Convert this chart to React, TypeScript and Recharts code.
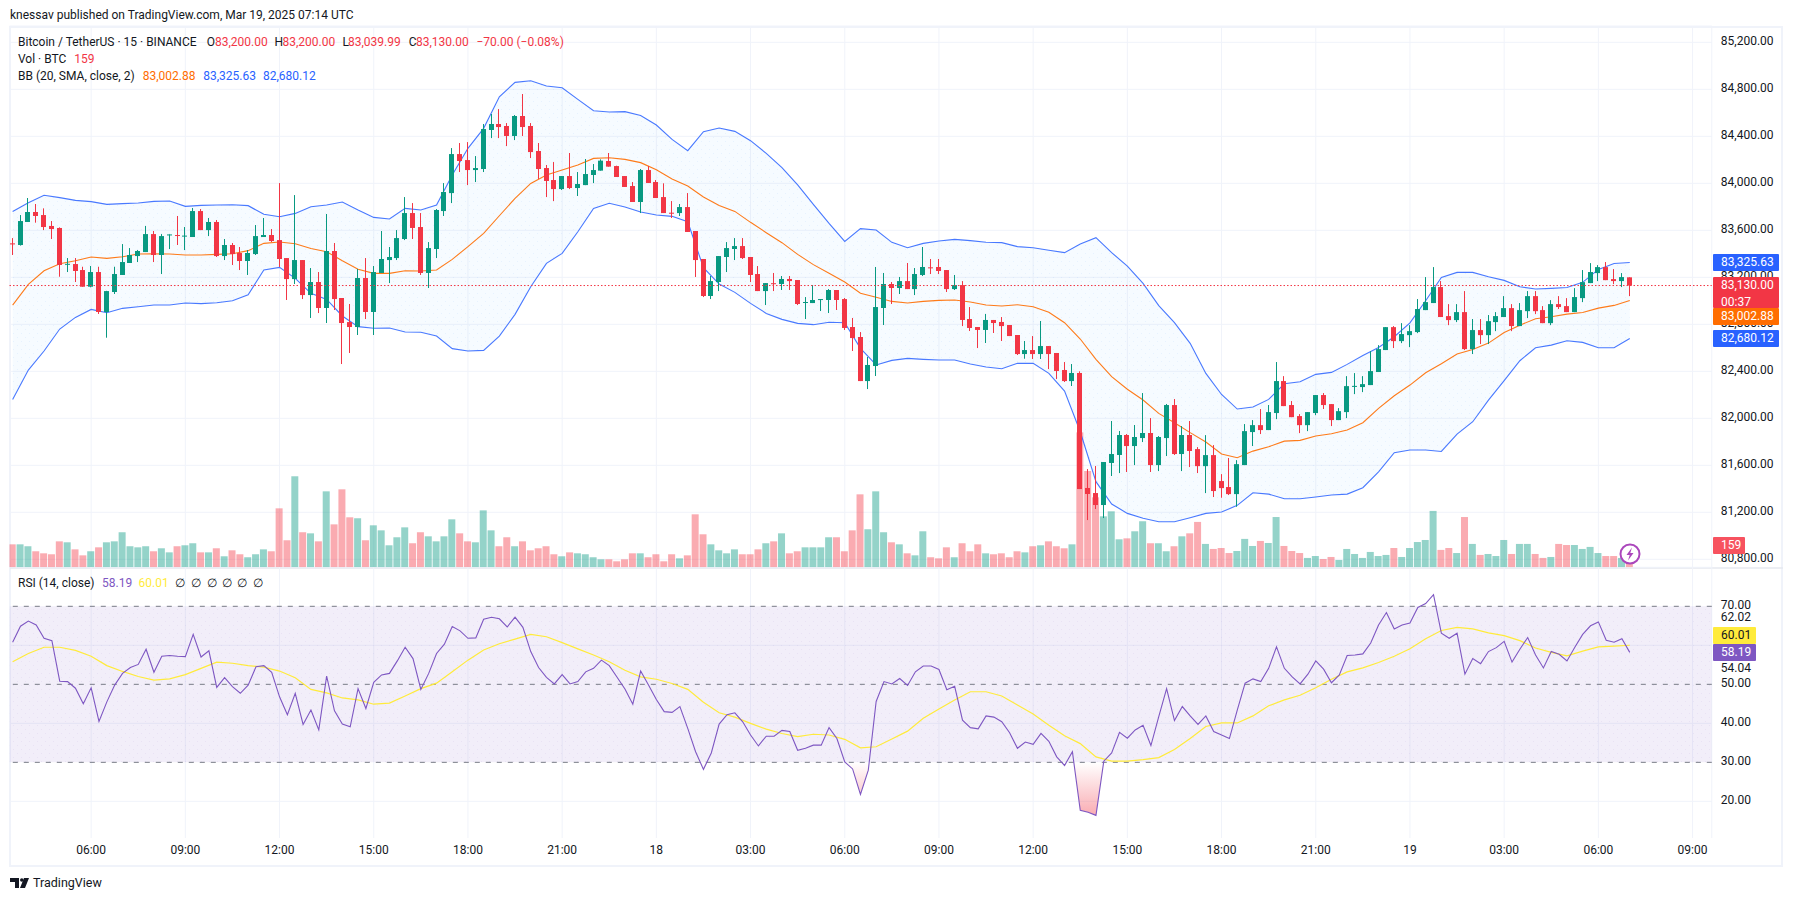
import React from "react";
import {
  ComposedChart, Bar, Line, Area, XAxis, YAxis, CartesianGrid, ReferenceLine, ReferenceArea,
} from "recharts";

const opens = [
83489,83475,83671,83756,83730,83637,83620,83310,83313,83262,
83120,83245,82905,83075,83220,83322,83381,83415,83568,83390,
83557,83560,83548,83543,83764,83602,83671,83381,83475,83407,
83339,83398,83543,83560,83517,83364,83185,83347,83049,83160,
82939,83424,83024,82819,82777,83194,82905,83237,83347,83364,
83526,83747,83628,83237,83441,83764,83917,84249,84198,84113,
84122,84454,84505,84488,84403,84573,84488,84275,84130,84028,
83951,84062,83960,83985,84071,84108,84190,84147,84062,83977,
83841,84113,84011,83883,83750,83747,83798,83594,83356,83041,
83160,83373,83441,83466,83373,83228,83083,83150,83143,83186,
83177,82985,82981,83007,83007,83092,83015,82777,82692,82317,
82445,82939,83143,83109,83168,83100,83220,83285,83288,83262,
83100,83134,82845,82777,82752,82837,82820,82794,82709,82547,
82581,82547,82615,82556,82411,82317,82386,81407,81364,81262,
81620,81688,81858,81764,81832,81875,81602,81832,82113,81696,
81858,81738,81593,81687,81466,81415,81355,81602,81883,81942,
81900,82045,82317,82113,82019,81942,82045,82198,82121,81985,
82053,82270,82266,82283,82394,82581,82776,82657,82708,82734,
82921,82981,83117,82870,82836,82904,82589,82751,82708,82819,
82862,82938,82785,82912,83040,82921,82810,82972,82955,82904,
83023,83151,83236,83287,83185,83168,83200];

const highs = [
83534,83730,83875,83824,83787,83679,83625,83364,83364,83290,
83296,83290,83085,83290,83483,83449,83432,83637,83594,83568,
83565,83722,83628,83790,83781,83705,83688,83526,83492,83458,
83432,83645,83705,83611,84002,83364,83900,83347,83279,83245,
83739,83492,83024,82973,83271,83364,83296,83594,83458,83602,
83883,83832,83747,83500,83781,84002,84300,84343,84351,84232,
84505,84590,84632,84513,84581,84760,84513,84343,84156,84181,
84062,84258,84096,84207,84164,84204,84258,84150,84062,84011,
84122,84147,84028,84000,83849,83824,83917,83594,83356,83211,
83381,83500,83534,83534,83373,83296,83151,83237,83211,83211,
83177,83032,83134,83015,83100,83092,83024,82854,82734,82522,
83288,83237,83160,83203,83322,83279,83458,83356,83356,83262,
83220,83168,82947,82777,82888,82837,82862,82794,82709,82658,
82700,82828,82615,82556,82479,82462,82400,81568,81594,81628,
81977,81892,81866,81943,82215,82002,81849,82122,82164,81934,
81977,81755,81857,81772,81525,81662,81644,81951,81985,82079,
82113,82479,82359,82147,82036,82053,82198,82215,82121,82087,
82359,82385,82359,82572,82623,82776,82785,82810,82793,83015,
83202,83287,83168,82972,82972,83083,82845,82845,82879,82904,
83040,82972,82981,83083,83083,82955,83006,83040,83023,83108,
83262,83321,83304,83330,83270,83236,83200];

const lows = [
83390,83470,83671,83665,83602,83526,83205,83245,83160,83120,
83115,82888,82686,83058,83220,83322,83330,83415,83330,83228,
83441,83475,83432,83543,83602,83551,83373,83347,83305,83262,
83220,83390,83543,83500,83288,83007,83143,83015,82854,82896,
82811,82922,82462,82556,82709,82845,82709,83237,83151,83347,
83517,83526,83220,83109,83364,83722,83832,84096,83985,84011,
84096,84385,84385,84317,84368,84403,84215,84037,83883,83849,
83943,83951,83892,83985,84002,84108,84142,84054,83969,83841,
83747,84003,83875,83747,83705,83722,83586,83203,83032,83015,
83083,83245,83347,83356,83160,83083,82964,83083,83092,83092,
82964,82845,82981,82913,82896,82922,82752,82573,82317,82249,
82360,82794,82973,83058,83100,83049,83211,83228,83228,83075,
83092,82785,82743,82598,82641,82726,82658,82700,82539,82507,
82505,82505,82419,82334,82309,82275,81398,81134,81228,81151,
81509,81534,81543,81602,81798,81543,81551,81679,81688,81551,
81585,81534,81364,81330,81324,81347,81247,81602,81764,81866,
81900,81993,82104,82010,81874,81891,82027,82079,81934,81985,
82002,82206,82223,82283,82394,82581,82598,82640,82606,82725,
82921,82981,82862,82793,82819,82581,82547,82632,82632,82742,
82862,82742,82785,82853,82887,82810,82793,82930,82904,82904,
82989,83151,83168,83176,83142,83117,83039.99];

const closes = [
83480,83679,83756,83722,83628,83611,83305,83315,83254,83120,
83245,82905,83083,83228,83330,83390,83424,83568,83390,83551,
83565,83553,83555,83764,83602,83671,83381,83475,83398,83339,
83407,83551,83560,83509,83356,83185,83347,83049,83160,82939,
83424,83015,82811,82777,83194,82905,83245,83356,83373,83534,
83747,83620,83237,83449,83773,83926,84249,84190,84113,84130,
84462,84505,84479,84403,84573,84479,84266,84122,84020,83951,
84062,83960,83994,84079,84113,84193,84142,84054,83969,83841,
84113,84003,83875,83747,83745,83798,83586,83347,83041,83168,
83381,83449,83466,83364,83220,83083,83151,83143,83186,83168,
82973,82990,83007,83015,83092,83007,82769,82683,82317,82454,
82947,83143,83109,83168,83100,83228,83288,83278,83254,83100,
83134,82837,82769,82752,82837,82811,82785,82700,82547,82581,
82547,82615,82547,82403,82317,82386,81398,81356,81262,81628,
81696,81858,81764,81841,81875,81602,81841,82113,81696,81858,
81722,81593,81687,81381,81406,81355,81610,81891,81942,81900,
82053,82317,82104,82010,81942,82053,82198,82113,81985,82061,
82274,82276,82291,82402,82589,82776,82657,82717,82742,82930,
82989,83117,82862,82836,82904,82589,82751,82708,82827,82870,
82938,82785,82921,83040,82912,82810,82972,82947,82904,83032,
83159,83245,83287,83176,83168,83202,83130];

const volumes = [
169,169,155,118,103,96,191,184,132,88,
118,147,184,191,258,155,147,155,118,140,
110,155,162,177,110,110,140,81,125,96,
74,96,132,118,434,199,670,258,250,191,
559,316,574,368,361,199,309,272,162,221,
294,177,258,228,191,228,353,250,191,184,
419,272,155,221,155,191,125,140,155,96,
81,110,103,96,74,59,59,44,59,103,
103,74,96,44,96,66,88,390,243,169,
125,103,132,96,96,132,177,191,250,103,
118,147,147,147,221,221,118,272,537,280,
559,258,184,169,103,88,265,74,66,147,
74,177,118,169,103,96,103,74,118,110,
155,162,191,155,140,169,993,709,515,375,
412,206,213,265,339,177,177,118,155,228,
250,334,172,135,142,105,120,209,157,194,
179,370,157,120,105,69,83,61,76,54,
135,98,69,113,83,91,142,76,142,186,
201,415,128,142,105,370,172,91,98,83,
201,98,172,172,98,69,76,172,164,164,
135,150,105,83,83,69,159];

const rsiValues = [
60.8,64.9,66.2,65.2,61.8,61.2,50.8,50.7,49.0,45.0,
49.1,40.5,45.5,49.8,52.8,54.3,55.1,59.0,53.1,57.2,
57.4,57.2,57.1,62.8,57.0,58.6,49.2,51.7,49.4,47.7,
49.8,54.5,54.8,53.1,46.8,42.2,47.7,39.7,43.4,38.3,
52.1,43.2,39.8,39.1,48.9,43.8,50.5,52.4,52.8,56.0,
59.5,56.6,48.7,52.8,57.9,60.3,64.8,63.7,61.8,61.9,
66.7,67.2,66.8,64.7,67.2,64.6,58.4,54.3,51.8,50.1,
52.5,50.1,50.7,53.2,54.1,56.2,54.8,51.8,48.8,44.9,
53.4,49.8,46.1,43.0,42.8,44.3,38.7,32.7,28.2,32.4,
39.8,42.2,42.7,40.4,37.0,34.2,36.7,36.7,38.2,37.9,
33.1,33.6,34.4,34.4,38.9,36.1,30.1,28.3,21.8,28.0,
45.6,50.7,50.1,51.5,49.7,53.2,54.7,54.7,53.8,48.6,
49.5,40.8,38.9,38.6,41.9,41.6,40.4,37.6,33.6,35.2,
34.6,37.4,35.4,31.4,29.2,32.7,17.7,17.2,16.4,30.3,
32.4,37.7,36.2,38.3,39.5,34.3,41.7,48.9,40.7,44.3,
41.9,39.7,41.9,37.9,37.0,36.1,43.4,50.3,51.4,50.7,
54.1,59.6,54.1,51.9,50.1,52.6,56.0,53.9,50.4,52.4,
57.4,57.5,57.8,60.6,65.2,68.4,64.2,65.2,65.7,69.7,
70.7,73.0,63.1,61.8,63.1,52.6,56.6,55.3,58.4,59.4,
61.0,55.7,59.0,62.0,57.5,54.2,58.4,57.7,56.0,59.5,
62.8,65.0,66.0,61.3,60.8,61.7,58.19];

// The four smooth lines are read at every second bar.
const bbUpper = [
83761,83835,83898,83878,83855,83844,83821,83827,83832,83846,
83849,83804,83812,83815,83818,83810,83736,83716,83744,83801,
83815,83841,83773,83710,83696,83787,83773,83815,84071,84298,
84468,84737,84859,84873,84828,84814,84715,84618,
84607,84610,84578,84496,84374,84278,84439,84471,84442,84363,
84255,84133,83986,83821,83659,83506,83614,83603,83498,83452,
83489,83509,83523,83512,83498,83495,83461,83452,83430,83410,
83483,83537,83410,83296,83149,82959,82814,82638,
82382,82203,82079,82096,82161,82294,82311,82374,82391,82459,
82535,82603,82694,82813,83001,83199,83242,83242,83205,83174,
83120,83100,83106,83114,83157,83267,83318,83325.63];

const bbMiddle = [
82964,83140,83256,83316,83341,83373,83361,83375,83398,83401,
83398,83390,83390,83395,83401,83427,83489,83500,83486,83446,
83418,83341,83268,83234,83234,83256,83254,83262,83353,83461,
83574,83724,83872,83999,84071,84113,84156,84212,
84218,84204,84176,84116,84037,83977,83883,83812,83761,83668,
83580,83495,83395,83308,83234,83160,83064,83030,82995,82981,
82995,83004,83007,82990,82964,82956,82967,82950,82902,82814,
82675,82502,82354,82247,82156,82042,81963,81878,
81798,81696,81664,81721,81758,81806,81812,81849,81869,81900,
81962,82084,82192,82283,82388,82464,82547,82586,82640,82731,
82793,82847,82864,82887,82901,82938,82961,83002.88];

const bbLower = [
82161,82411,82573,82760,82859,82927,82899,82936,82950,82964,
82964,82981,82976,82984,83001,83052,83262,83285,83191,83064,
83012,82871,82780,82766,82768,82734,82732,82700,82593,82573,
82578,82700,82885,83120,83319,83404,83588,83787,
83830,83798,83756,83730,83719,83673,83282,83143,83072,82978,
82893,82842,82808,82797,82817,82814,82595,82454,82493,82510,
82502,82496,82496,82462,82437,82422,82468,82468,82383,82232,
81886,81461,81271,81191,81149,81120,81120,81154,
81191,81202,81259,81366,81355,81315,81315,81330,81347,81355,
81409,81545,81707,81730,81730,81718,81866,81971,82155,82320,
82490,82601,82623,82660,82646,82601,82601,82680.12];

const rsiMa = [
55.8,57.9,59.5,59.5,58.7,57.2,54.8,53.3,52.0,51.1,
51.4,52.5,54.1,55.7,55.4,54.8,54.4,53.4,51.7,48.7,
47.8,46.5,46.0,44.9,45.2,47.0,48.9,50.3,53.2,56.2,
58.8,60.4,61.6,62.8,62.2,60.7,59.1,57.5,
55.8,53.6,51.9,51.3,50.2,48.7,45.4,42.7,41.6,40.0,
38.5,37.4,36.6,37.2,37.0,35.9,33.7,34.0,36.0,38.0,
41.3,43.7,46.0,48.1,48.1,47.0,44.7,42.4,39.5,36.8,
34.8,31.4,30.3,30.3,30.7,31.2,33.3,36.1,
39.2,40.1,40.1,41.9,44.5,46.0,47.2,49.1,51.3,53.2,
54.2,55.6,57.2,59.1,61.7,63.8,64.6,64.2,63.2,62.5,
61.2,59.3,58.2,57.3,58.5,59.6,59.8,60.01];

const priceTicks = [80800,81200,81600,82000,82400,82800,83200,83600,84000,84400,84800,85200];
const timeTickBars = [10,22,34,46,58,70,82,94,106,118,130,142,154,166,178,190,202,214];
const timeTickLabels = ["06:00","09:00","12:00","15:00","18:00","21:00","18","03:00","06:00","09:00","12:00","15:00","18:00","21:00","19","03:00","06:00","09:00"];
const rsiGridLevels = [20,40,60];
const rsiDashedLevels = [30,50,70];
const rsiTickPositions = [20,30,40,50,53.85,66.9,70];
const rsiTickLabels = ["20.00","30.00","40.00","50.00","54.04","62.02","70.00"];
const lastPrice = 83130;

const UP = "#089981", DOWN = "#f23645", BLUE = "#2962ff", ORANGE = "#ff6d00", PURPLE = "#7e57c2", YELLOW = "#ffeb3b";
const GRID = "#f0f3fa", TEXT = "#131722";
const FONT = "Roboto, sans-serif";

const rows = opens.map((open, i) => ({
  i, open, high: highs[i], low: lows[i], close: closes[i], volume: volumes[i], rsi: rsiValues[i],
  range: [lows[i], highs[i]],
}));
const bandRows = bbUpper.map((u, k) => ({ i: k * 2, upper: u, middle: bbMiddle[k], lower: bbLower[k], band: [bbLower[k], u], ma: rsiMa[k] }));

const oversoldRows: { i: number; under: number[] }[] = [];
rsiValues.forEach((v, i) => {
  oversoldRows.push({ i, under: [Math.min(v, 30), 30] });
  const n = rsiValues[i + 1];
  if (n !== undefined && (v - 30) * (n - 30) < 0) {
    oversoldRows.push({ i: i + (30 - v) / (n - v), under: [30, 30] });
  }
});

function Candle(p: any) {
  const { x, y, width, height, payload } = p;
  const perUnit = Math.abs(height) / Math.max(payload.high - payload.low, 1);
  const top = Math.min(y, y + height);
  const cx = Math.round(x + width / 2 - 0.5) + 0.5;
  const yOf = (v: number) => top + (payload.high - v) * perUnit;
  const up = payload.close >= payload.open;
  const c = up ? UP : DOWN;
  const bt = yOf(Math.max(payload.open, payload.close));
  const bb = yOf(Math.min(payload.open, payload.close));
  return (
    <g>
      <line x1={cx} x2={cx} y1={top} y2={top + Math.abs(height)} stroke={c} strokeWidth={1} />
      <rect x={cx - 2.5} y={bt} width={5} height={Math.max(bb - bt, 1)} fill={c} />
    </g>
  );
}

function VolumeBar(p: any) {
  const { x, y, width, height, payload } = p;
  const up = payload.close >= payload.open;
  return <rect x={x} y={y} width={width} height={height} fill={up ? "rgba(8,153,129,0.43)" : "rgba(242,54,69,0.42)"} />;
}

const fmtPrice = (v: number) => v.toLocaleString("en-US", { minimumFractionDigits: 2, maximumFractionDigits: 2 });
const fmtTime = (v: number) => timeTickLabels[timeTickBars.indexOf(v)] ?? "";
const fmtRsi = (v: number) => rsiTickLabels[rsiTickPositions.indexOf(v)] ?? "";

const tickStyle = { fontSize: 12, fontFamily: FONT, fill: TEXT };
const layer: React.CSSProperties = { position: "absolute", left: 0, top: 0 };
const XDOMAIN: [number, number] = [-0.4, 216.45];
const PRICE_DOMAIN: [number, number] = [80732, 85339];
const PRICE_MARGIN_TOP = 26;
const PRICE_MARGIN_BOTTOM = 333.7;

function T({ x, y, c = TEXT, children }: { x: number; y: number; c?: string; children: React.ReactNode }) {
  return (
    <div style={{ position: "absolute", left: x, top: y - 8, height: 16, lineHeight: "16px", fontSize: 12, fontFamily: FONT, color: c, whiteSpace: "nowrap" }}>
      {children}
    </div>
  );
}

function Badge({ y, h, w = 66, bg, c = "#fff", lines }: { y: number; h: number; w?: number; bg: string; c?: string; lines: string[] }) {
  return (
    <div style={{ position: "absolute", left: 1713, top: y, width: w, height: h, background: bg, color: c, fontSize: 12, fontFamily: FONT, lineHeight: "17px", paddingLeft: 8, boxSizing: "border-box", borderRadius: 1 }}>
      {lines.map((l) => <div key={l}>{l}</div>)}
    </div>
  );
}

export default function App() {
  return (
    <div style={{ position: "absolute", left: 0, top: 0, width: 1794, height: 901, background: "#fff", overflow: "hidden" }}>
      <svg width={1794} height={901} style={layer}>
        <rect x={10} y={27} width={1772} height={839} fill="none" stroke={GRID} strokeWidth={2} />
        <line x1={9} x2={1783} y1={568} y2={568} stroke="#e6e8ef" strokeWidth={1.5} />
      </svg>

      <div style={layer}>
        <ComposedChart width={1794} height={901} data={rows} margin={{ top: PRICE_MARGIN_TOP, bottom: PRICE_MARGIN_BOTTOM, left: 9.5, right: 0 }}>
          <defs>
            <pattern id="bbDots" patternUnits="userSpaceOnUse" width={8} height={8}>
              <rect width={8} height={8} fill="rgba(33,150,243,0.04)" />
              <rect x={1} y={1} width={1} height={1} fill="rgba(33,120,243,0.07)" />
              <rect x={5} y={5} width={1} height={1} fill="rgba(33,120,243,0.07)" />
            </pattern>
          </defs>
          <CartesianGrid stroke={GRID} yAxisId="price" />
          <XAxis type="number" dataKey="i" domain={XDOMAIN} ticks={timeTickBars} allowDataOverflow hide />
          <YAxis yAxisId="price" orientation="right" width={82.2} domain={PRICE_DOMAIN} ticks={priceTicks} allowDataOverflow
            tickFormatter={fmtPrice} tick={{ ...tickStyle, dy: -1.2 }} tickLine={false} axisLine={false} tickSize={0} tickMargin={9} interval={0} />
          <YAxis yAxisId="vol" hide domain={[0, 3984]} allowDataOverflow />
          <Area data={bandRows} yAxisId="price" dataKey="band" stroke="none" fill="url(#bbDots)" fillOpacity={1} isAnimationActive={false} dot={false} activeDot={false} />
          <Bar yAxisId="vol" dataKey="volume" barSize={7} shape={VolumeBar} isAnimationActive={false} />
          <Line data={bandRows} yAxisId="price" dataKey="upper" stroke={BLUE} strokeOpacity={0.85} strokeWidth={1.1} dot={false} activeDot={false} isAnimationActive={false} type="linear" />
          <Line data={bandRows} yAxisId="price" dataKey="lower" stroke={BLUE} strokeOpacity={0.85} strokeWidth={1.1} dot={false} activeDot={false} isAnimationActive={false} type="linear" />
          <Line data={bandRows} yAxisId="price" dataKey="middle" stroke={ORANGE} strokeOpacity={0.9} strokeWidth={1.1} dot={false} activeDot={false} isAnimationActive={false} type="linear" />
        </ComposedChart>
      </div>

      <div style={layer}>
        <ComposedChart width={1794} height={901} data={rows} margin={{ top: PRICE_MARGIN_TOP, bottom: PRICE_MARGIN_BOTTOM, left: 9.5, right: 82.2 }}>
          <XAxis type="number" dataKey="i" domain={XDOMAIN} allowDataOverflow hide />
          <YAxis yAxisId="price" hide domain={PRICE_DOMAIN} allowDataOverflow />
          <Bar yAxisId="price" dataKey="range" barSize={5} shape={Candle} isAnimationActive={false} />
          <ReferenceLine yAxisId="price" y={lastPrice} stroke={DOWN} strokeDasharray="1.5 2" strokeWidth={1} />
        </ComposedChart>
      </div>

      <div style={layer}>
        <ComposedChart width={1794} height={901} data={rows} margin={{ top: 567.3, bottom: 33, left: 9.5, right: 0 }}>
          <defs>
            <linearGradient id="oversold" gradientUnits="userSpaceOnUse" x1="0" x2="0" y1="762.3" y2="820">
              <stop offset="0" stopColor="#f23645" stopOpacity={0} />
              <stop offset="1" stopColor="#f23645" stopOpacity={0.45} />
            </linearGradient>
            <pattern id="rsiDots" patternUnits="userSpaceOnUse" width={8} height={8}>
              <rect width={8} height={8} fill="rgba(126,87,194,0.1)" />
              <rect x={1} y={1} width={1} height={1} fill="rgba(126,87,194,0.08)" />
              <rect x={5} y={5} width={1} height={1} fill="rgba(126,87,194,0.08)" />
            </pattern>
          </defs>
          <ReferenceArea yAxisId="rsi" y1={30} y2={70} fill="url(#rsiDots)" fillOpacity={1} stroke="none" ifOverflow="hidden" />
          <CartesianGrid stroke={GRID} yAxisId="rsi" horizontalValues={rsiGridLevels} />
          <XAxis type="number" dataKey="i" domain={XDOMAIN} ticks={timeTickBars} allowDataOverflow height={30}
            tickFormatter={fmtTime} tick={tickStyle} tickLine={false} axisLine={false} tickSize={0} tickMargin={7} interval={0} />
          <YAxis yAxisId="rsi" orientation="right" width={82.2} domain={[10.6, 80]} ticks={rsiTickPositions} allowDataOverflow
            tickFormatter={fmtRsi} tick={{ ...tickStyle, dy: -1.3 }} tickLine={false} axisLine={false} tickSize={0} tickMargin={9} interval={0} />
          {rsiDashedLevels.map((v) => (
            <ReferenceLine key={v} yAxisId="rsi" y={v} stroke="#787b86" strokeDasharray="5 6" strokeWidth={1} />
          ))}
          <Area data={oversoldRows} yAxisId="rsi" dataKey="under" stroke="none" fill="url(#oversold)" fillOpacity={1} isAnimationActive={false} dot={false} activeDot={false} />
          <Line data={bandRows} yAxisId="rsi" dataKey="ma" stroke={YELLOW} strokeWidth={1.2} dot={false} activeDot={false} isAnimationActive={false} type="linear" />
          <Line yAxisId="rsi" dataKey="rsi" stroke={PURPLE} strokeWidth={1.1} dot={false} activeDot={false} isAnimationActive={false} type="linear" />
        </ComposedChart>
      </div>

      <T x={10} y={15}>knessav published on TradingView.com, Mar 19, 2025 07:14 UTC</T>

      <T x={18} y={41.7}>Bitcoin / TetherUS · 15 · BINANCE</T>
      <T x={206.7} y={41.7}>O</T><T x={215} y={41.7} c={DOWN}>83,200.00</T>
      <T x={274.4} y={41.7}>H</T><T x={282.4} y={41.7} c={DOWN}>83,200.00</T>
      <T x={342.5} y={41.7}>L</T><T x={348} y={41.7} c={DOWN}>83,039.99</T>
      <T x={408.7} y={41.7}>C</T><T x={416} y={41.7} c={DOWN}>83,130.00</T>
      <T x={476.5} y={41.7} c={DOWN}>−70.00 (−0.08%)</T>

      <T x={18} y={58.7}>Vol · BTC</T><T x={74.2} y={58.7} c={DOWN}>159</T>

      <T x={18} y={76}>BB (20, SMA, close, 2)</T>
      <T x={142.7} y={76} c={ORANGE}>83,002.88</T>
      <T x={203.2} y={76} c={BLUE}>83,325.63</T>
      <T x={263} y={76} c={BLUE}>82,680.12</T>

      <T x={18} y={582.7}>RSI (14, close)</T>
      <T x={102} y={582.7} c={PURPLE}>58.19</T>
      <T x={138.5} y={582.7} c="#ffeb3b">60.01</T>
      {[175.3, 191.3, 206.7, 222, 236.5, 252.6].map((x) => <T key={x} x={x} y={582.7}>∅</T>)}

      <Badge y={254} h={17} bg={BLUE} lines={["83,325.63"]} />
      <Badge y={277} h={31} bg={DOWN} lines={["83,130.00", "00:37"]} />
      <Badge y={308} h={17} bg={ORANGE} lines={["83,002.88"]} />
      <Badge y={330} h={17} bg={BLUE} lines={["82,680.12"]} />
      <Badge y={537} h={17} w={32} bg="#f7525f" lines={["159"]} />
      <Badge y={627} h={17} w={43} bg="#ffeb3b" c={TEXT} lines={["60.01"]} />
      <Badge y={644} h={17} w={43} bg={PURPLE} lines={["58.19"]} />

      <svg width={1794} height={901} style={{ ...layer, pointerEvents: "none" }}>
        <circle cx={1630} cy={554} r={9.5} fill="#fff" stroke="#ab47bc" strokeWidth={2} />
        <path d="M1632 547.5 L1626.5 555 L1629.7 555 L1628 560.5 L1633.5 553 L1630.3 553 Z" fill="#ab47bc" />
        <path d="M10 878 H19 V888 H15 V882 H10 Z" fill="#131722" />
        <circle cx={21.8} cy={880} r={1.8} fill="#131722" />
        <path d="M24 878 H29 L25 888 H20 Z" fill="#131722" />
      </svg>
      <div style={{ position: "absolute", left: 33, top: 875, height: 16, lineHeight: "16px", fontSize: 12.5, fontFamily: FONT, color: TEXT }}>TradingView</div>
    </div>
  );
}
